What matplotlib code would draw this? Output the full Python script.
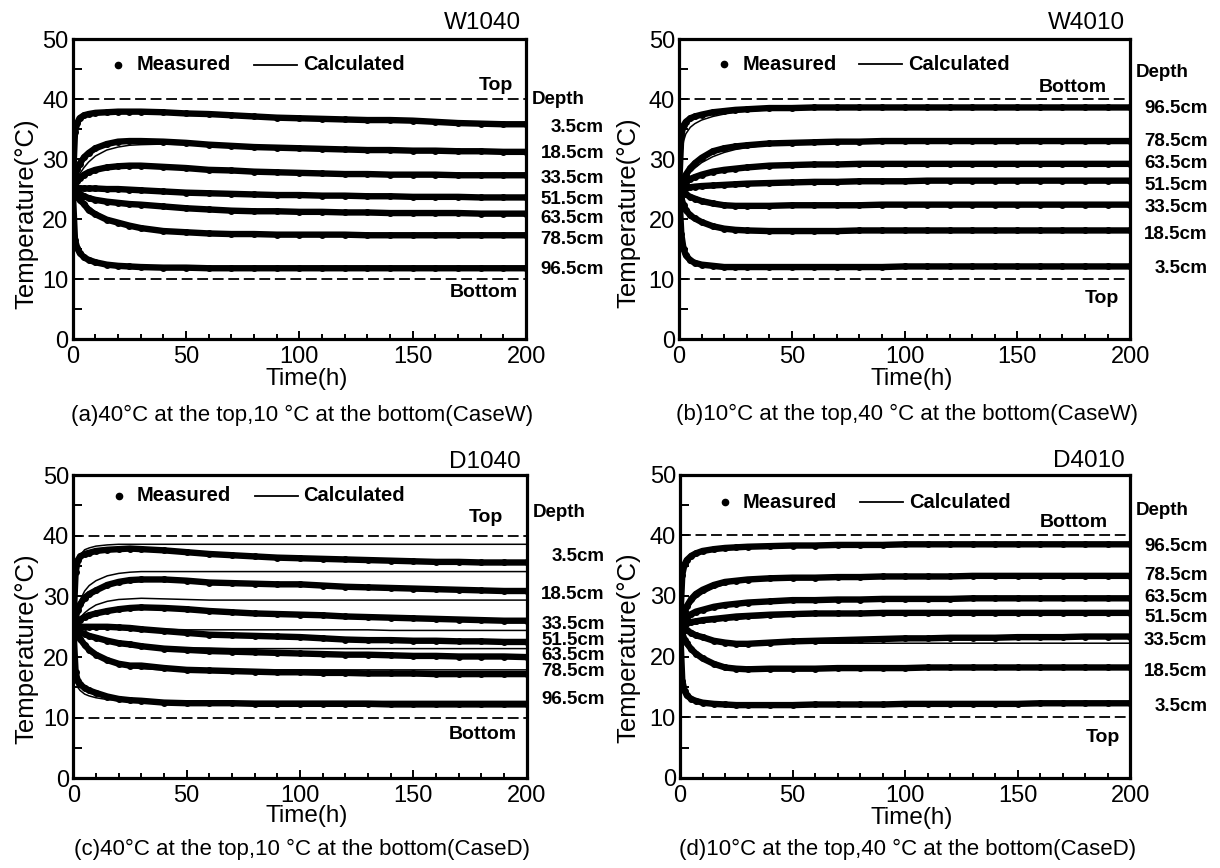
import matplotlib
matplotlib.use("Agg")
import matplotlib.pyplot as plt
from matplotlib.ticker import MultipleLocator
from matplotlib.transforms import blended_transform_factory

plt.rcParams['font.family'] = ['Liberation Sans', 'DejaVu Sans']

# elapsed time of each reading (h)
hours = [0, 1, 2, 3, 5, 7, 10, 15, 20, 25, 30, 40, 50, 60, 70, 80, 90,
         100, 110, 120, 130, 140, 150, 160, 170, 180, 190, 200]

# sensor depths, from the top of the column downwards
depths = ["3.5cm", "18.5cm", "33.5cm", "51.5cm", "63.5cm", "78.5cm", "96.5cm"]

# ---- W1040: 40 degC at the top, 10 degC at the bottom (case W) ----
w1040_measured = [
    [25, 34.5, 36.0, 36.8, 37.3, 37.5, 37.7, 37.8, 37.9, 37.9, 37.9, 37.8, 37.6, 37.5, 37.3, 37.1, 36.9, 36.8, 36.7, 36.6, 36.5, 36.5, 36.4, 36.2, 36.0, 35.9, 35.8, 35.8],
    [25, 27.0, 28.3, 29.2, 30.3, 31.0, 31.8, 32.5, 32.9, 33.0, 33.0, 32.9, 32.7, 32.4, 32.2, 32.0, 31.9, 31.8, 31.7, 31.6, 31.5, 31.5, 31.4, 31.4, 31.3, 31.3, 31.2, 31.2],
    [25, 25.8, 26.3, 26.8, 27.4, 27.8, 28.2, 28.6, 28.8, 28.9, 28.9, 28.7, 28.5, 28.2, 28.1, 27.9, 27.8, 27.7, 27.6, 27.5, 27.5, 27.4, 27.4, 27.4, 27.3, 27.3, 27.3, 27.3],
    [25, 25.1, 25.1, 25.1, 25.1, 25.1, 25.1, 25.0, 25.0, 24.9, 24.8, 24.6, 24.4, 24.3, 24.2, 24.1, 24.0, 24.0, 23.9, 23.9, 23.8, 23.8, 23.7, 23.7, 23.7, 23.6, 23.6, 23.6],
    [25, 24.7, 24.4, 24.2, 23.8, 23.5, 23.2, 22.9, 22.7, 22.5, 22.4, 22.1, 21.8, 21.6, 21.4, 21.3, 21.3, 21.2, 21.2, 21.1, 21.1, 21.0, 21.0, 21.0, 21.0, 20.9, 20.9, 20.9],
    [25, 24.3, 23.7, 23.2, 22.5, 21.5, 20.8, 19.9, 19.4, 18.9, 18.5, 18.0, 17.8, 17.6, 17.5, 17.5, 17.4, 17.4, 17.4, 17.4, 17.3, 17.3, 17.3, 17.3, 17.3, 17.3, 17.3, 17.3],
    [25, 16.5, 15.2, 14.4, 13.6, 13.2, 12.8, 12.4, 12.2, 12.1, 12.0, 11.9, 11.9, 11.8, 11.8, 11.8, 11.8, 11.8, 11.8, 11.8, 11.8, 11.8, 11.8, 11.8, 11.8, 11.8, 11.8, 11.8],
]
w1040_calculated = [
    [25, 33.0, 35.3, 36.3, 37.0, 37.3, 37.6, 37.8, 37.9, 37.9, 37.9, 37.8, 37.6, 37.5, 37.3, 37.1, 36.9, 36.8, 36.7, 36.6, 36.5, 36.5, 36.4, 36.2, 36.0, 35.9, 35.8, 35.8],
    [25, 26.0, 26.8, 27.5, 28.6, 29.5, 30.5, 31.5, 32.0, 32.3, 32.4, 32.5, 32.4, 32.3, 32.1, 32.0, 31.9, 31.8, 31.7, 31.6, 31.5, 31.5, 31.4, 31.4, 31.3, 31.3, 31.2, 31.2],
    [25, 25.4, 25.8, 26.2, 26.9, 27.4, 27.9, 28.4, 28.7, 28.8, 28.8, 28.7, 28.5, 28.2, 28.1, 27.9, 27.8, 27.7, 27.6, 27.5, 27.5, 27.4, 27.4, 27.4, 27.3, 27.3, 27.3, 27.3],
    [25, 25.0, 25.0, 25.0, 25.0, 25.0, 25.0, 25.0, 24.9, 24.9, 24.8, 24.6, 24.4, 24.3, 24.2, 24.1, 24.0, 24.0, 23.9, 23.9, 23.8, 23.8, 23.7, 23.7, 23.7, 23.6, 23.6, 23.6],
    [25, 24.8, 24.6, 24.4, 24.0, 23.7, 23.4, 23.0, 22.7, 22.5, 22.4, 22.1, 21.8, 21.6, 21.4, 21.3, 21.3, 21.2, 21.2, 21.1, 21.1, 21.0, 21.0, 21.0, 21.0, 20.9, 20.9, 20.9],
    [25, 24.6, 24.1, 23.6, 22.8, 22.1, 21.2, 20.1, 19.3, 18.8, 18.5, 18.0, 17.8, 17.6, 17.5, 17.5, 17.4, 17.4, 17.4, 17.4, 17.3, 17.3, 17.3, 17.3, 17.3, 17.3, 17.3, 17.3],
    [25, 15.5, 14.5, 14.0, 13.3, 13.0, 12.7, 12.4, 12.2, 12.1, 12.0, 11.9, 11.9, 11.8, 11.8, 11.8, 11.8, 11.8, 11.8, 11.8, 11.8, 11.8, 11.8, 11.8, 11.8, 11.8, 11.8, 11.8],
]

# ---- W4010: 10 degC at the top, 40 degC at the bottom (case W) ----
w4010_measured = [
    [25, 17.5, 15.0, 14.0, 13.1, 12.7, 12.4, 12.2, 12.0, 12.0, 12.0, 12.0, 12.0, 12.0, 12.0, 12.0, 12.0, 12.1, 12.1, 12.1, 12.1, 12.1, 12.1, 12.1, 12.1, 12.1, 12.1, 12.1],
    [25, 23.5, 22.3, 21.5, 20.6, 20.1, 19.5, 18.8, 18.4, 18.2, 18.1, 18.0, 18.0, 18.0, 18.0, 18.1, 18.1, 18.1, 18.1, 18.1, 18.1, 18.1, 18.1, 18.1, 18.1, 18.1, 18.1, 18.1],
    [25, 24.7, 24.4, 24.1, 23.7, 23.4, 23.0, 22.6, 22.3, 22.2, 22.2, 22.2, 22.3, 22.3, 22.3, 22.3, 22.4, 22.4, 22.4, 22.4, 22.4, 22.4, 22.4, 22.4, 22.4, 22.4, 22.4, 22.4],
    [25, 25.1, 25.2, 25.2, 25.3, 25.4, 25.5, 25.6, 25.7, 25.8, 25.9, 26.0, 26.1, 26.2, 26.2, 26.3, 26.3, 26.3, 26.4, 26.4, 26.4, 26.4, 26.4, 26.4, 26.4, 26.4, 26.4, 26.4],
    [25, 25.5, 25.9, 26.2, 26.7, 27.0, 27.4, 27.9, 28.2, 28.4, 28.6, 28.9, 29.0, 29.1, 29.1, 29.2, 29.2, 29.2, 29.2, 29.2, 29.2, 29.2, 29.2, 29.2, 29.2, 29.2, 29.2, 29.2],
    [25, 26.0, 26.8, 27.4, 28.5, 29.3, 30.2, 31.3, 31.8, 32.1, 32.3, 32.6, 32.7, 32.8, 32.9, 32.9, 33.0, 33.0, 33.0, 33.0, 33.0, 33.0, 33.0, 33.0, 33.0, 33.0, 33.0, 33.0],
    [25, 34.0, 35.6, 36.2, 36.8, 37.1, 37.4, 37.8, 38.0, 38.2, 38.3, 38.5, 38.5, 38.6, 38.6, 38.6, 38.6, 38.6, 38.6, 38.6, 38.6, 38.6, 38.6, 38.6, 38.6, 38.6, 38.6, 38.6],
]
w4010_calculated = [
    [25, 15.5, 14.0, 13.4, 12.8, 12.5, 12.3, 12.1, 12.0, 12.0, 12.0, 12.0, 12.0, 12.0, 12.0, 12.0, 12.0, 12.1, 12.1, 12.1, 12.1, 12.1, 12.1, 12.1, 12.1, 12.1, 12.1, 12.1],
    [25, 23.0, 22.0, 21.3, 20.5, 20.0, 19.4, 18.8, 18.4, 18.2, 18.1, 18.0, 18.0, 18.0, 18.0, 18.1, 18.1, 18.1, 18.1, 18.1, 18.1, 18.1, 18.1, 18.1, 18.1, 18.1, 18.1, 18.1],
    [25, 24.8, 24.5, 24.3, 23.9, 23.5, 23.1, 22.7, 22.4, 22.3, 22.2, 22.2, 22.3, 22.3, 22.3, 22.3, 22.4, 22.4, 22.4, 22.4, 22.4, 22.4, 22.4, 22.4, 22.4, 22.4, 22.4, 22.4],
    [25, 25.0, 25.1, 25.1, 25.2, 25.3, 25.4, 25.5, 25.6, 25.7, 25.8, 26.0, 26.1, 26.2, 26.2, 26.3, 26.3, 26.3, 26.4, 26.4, 26.4, 26.4, 26.4, 26.4, 26.4, 26.4, 26.4, 26.4],
    [25, 25.2, 25.5, 25.8, 26.3, 26.7, 27.1, 27.7, 28.0, 28.3, 28.5, 28.8, 29.0, 29.1, 29.1, 29.2, 29.2, 29.2, 29.2, 29.2, 29.2, 29.2, 29.2, 29.2, 29.2, 29.2, 29.2, 29.2],
    [25, 25.5, 26.2, 26.8, 27.8, 28.5, 29.4, 30.4, 31.1, 31.6, 31.9, 32.4, 32.6, 32.8, 32.9, 32.9, 33.0, 33.0, 33.0, 33.0, 33.0, 33.0, 33.0, 33.0, 33.0, 33.0, 33.0, 33.0],
    [25, 30.5, 33.0, 34.2, 35.3, 35.9, 36.5, 37.1, 37.5, 37.8, 38.0, 38.2, 38.4, 38.5, 38.6, 38.6, 38.6, 38.6, 38.6, 38.6, 38.6, 38.6, 38.6, 38.6, 38.6, 38.6, 38.6, 38.6],
]

# ---- D1040: 40 degC at the top, 10 degC at the bottom (case D) ----
d1040_measured = [
    [25, 34.0, 36.0, 36.6, 37.0, 37.2, 37.5, 37.7, 37.8, 37.9, 37.8, 37.6, 37.3, 37.0, 36.8, 36.6, 36.4, 36.3, 36.2, 36.1, 36.0, 35.9, 35.8, 35.7, 35.7, 35.6, 35.6, 35.6],
    [25, 26.5, 27.8, 28.7, 29.8, 30.4, 31.0, 31.9, 32.4, 32.7, 32.8, 32.8, 32.6, 32.3, 32.2, 32.1, 32.0, 32.0, 31.8, 31.6, 31.5, 31.4, 31.3, 31.2, 31.1, 31.0, 30.9, 30.9],
    [25, 25.5, 25.9, 26.2, 26.6, 26.9, 27.2, 27.6, 27.9, 28.1, 28.2, 28.1, 27.9, 27.6, 27.4, 27.2, 27.1, 27.0, 26.9, 26.7, 26.6, 26.5, 26.4, 26.3, 26.2, 26.1, 26.0, 26.0],
    [25, 25.0, 25.0, 25.0, 25.0, 25.0, 25.0, 25.0, 24.9, 24.8, 24.6, 24.3, 24.0, 23.7, 23.6, 23.5, 23.4, 23.3, 23.1, 22.9, 22.8, 22.8, 22.7, 22.7, 22.6, 22.6, 22.5, 22.5],
    [25, 24.7, 24.4, 24.1, 23.8, 23.5, 23.2, 22.7, 22.3, 22.1, 21.8, 21.4, 21.2, 21.0, 20.9, 20.8, 20.7, 20.6, 20.5, 20.4, 20.4, 20.3, 20.2, 20.2, 20.1, 20.1, 20.1, 20.0],
    [25, 24.3, 23.6, 23.0, 22.0, 21.2, 20.4, 19.5, 18.9, 18.6, 18.6, 18.2, 17.9, 17.8, 17.7, 17.6, 17.5, 17.5, 17.4, 17.4, 17.3, 17.3, 17.3, 17.2, 17.2, 17.2, 17.2, 17.2],
    [25, 17.5, 16.0, 15.5, 14.9, 14.5, 14.1, 13.5, 13.1, 12.9, 12.8, 12.5, 12.4, 12.4, 12.4, 12.3, 12.3, 12.3, 12.3, 12.3, 12.3, 12.2, 12.2, 12.2, 12.2, 12.2, 12.2, 12.2],
]
d1040_calculated = [
    [25, 33.5, 35.8, 36.8, 37.7, 38.0, 38.3, 38.5, 38.6, 38.6, 38.6, 38.6, 38.6, 38.6, 38.6, 38.6, 38.6, 38.6, 38.6, 38.6, 38.6, 38.6, 38.6, 38.6, 38.6, 38.6, 38.6, 38.6],
    [25, 26.8, 28.3, 29.4, 30.9, 31.8, 32.6, 33.4, 33.8, 34.0, 34.1, 34.1, 34.1, 34.1, 34.1, 34.1, 34.1, 34.1, 34.1, 34.1, 34.1, 34.1, 34.1, 34.1, 34.1, 34.1, 34.1, 34.1],
    [25, 25.5, 26.0, 26.5, 27.3, 27.9, 28.6, 29.2, 29.5, 29.6, 29.7, 29.6, 29.5, 29.4, 29.4, 29.4, 29.4, 29.4, 29.4, 29.4, 29.4, 29.4, 29.4, 29.4, 29.4, 29.4, 29.4, 29.4],
    [25, 25.0, 25.0, 25.0, 25.0, 24.9, 24.9, 24.8, 24.8, 24.7, 24.7, 24.6, 24.5, 24.5, 24.5, 24.5, 24.5, 24.5, 24.5, 24.5, 24.5, 24.4, 24.4, 24.4, 24.4, 24.4, 24.4, 24.4],
    [25, 24.8, 24.5, 24.2, 23.7, 23.3, 22.9, 22.4, 22.1, 21.9, 21.8, 21.6, 21.5, 21.5, 21.4, 21.4, 21.4, 21.4, 21.4, 21.4, 21.4, 21.4, 21.4, 21.4, 21.4, 21.4, 21.4, 21.4],
    [25, 24.4, 23.7, 23.1, 22.1, 21.2, 20.3, 19.3, 18.7, 18.3, 18.1, 17.9, 17.9, 17.9, 17.9, 17.9, 17.9, 17.9, 17.9, 17.9, 17.9, 17.9, 17.9, 17.9, 17.9, 17.9, 17.9, 17.9],
    [25, 16.0, 15.0, 14.5, 13.9, 13.6, 13.3, 13.0, 12.9, 12.8, 12.8, 12.8, 12.7, 12.7, 12.7, 12.7, 12.7, 12.7, 12.7, 12.7, 12.7, 12.7, 12.7, 12.7, 12.7, 12.7, 12.7, 12.7],
]

# ---- D4010: 10 degC at the top, 40 degC at the bottom (case D) ----
d4010_measured = [
    [25, 16.0, 14.4, 13.6, 13.0, 12.7, 12.4, 12.2, 12.1, 12.0, 12.0, 12.0, 12.0, 12.1, 12.1, 12.1, 12.1, 12.2, 12.2, 12.2, 12.2, 12.2, 12.2, 12.3, 12.3, 12.3, 12.3, 12.3],
    [25, 23.8, 22.8, 22.2, 21.2, 20.5, 19.7, 18.8, 18.2, 18.0, 17.9, 18.0, 18.0, 18.0, 18.1, 18.1, 18.1, 18.1, 18.2, 18.2, 18.2, 18.2, 18.2, 18.2, 18.2, 18.2, 18.2, 18.2],
    [25, 24.8, 24.5, 24.3, 23.9, 23.5, 23.2, 22.6, 22.3, 22.1, 22.1, 22.3, 22.5, 22.6, 22.7, 22.8, 22.9, 23.0, 23.0, 23.1, 23.1, 23.1, 23.2, 23.2, 23.2, 23.3, 23.3, 23.3],
    [25, 25.2, 25.4, 25.5, 25.7, 25.8, 26.0, 26.2, 26.4, 26.6, 26.7, 26.9, 27.0, 27.1, 27.1, 27.1, 27.2, 27.2, 27.2, 27.2, 27.2, 27.2, 27.2, 27.2, 27.2, 27.2, 27.2, 27.2],
    [25, 25.6, 26.1, 26.5, 27.0, 27.4, 27.7, 28.2, 28.5, 28.7, 28.9, 29.1, 29.3, 29.3, 29.4, 29.4, 29.5, 29.5, 29.5, 29.5, 29.6, 29.6, 29.6, 29.6, 29.6, 29.6, 29.6, 29.6],
    [25, 26.5, 27.5, 28.3, 29.5, 30.3, 31.0, 31.8, 32.3, 32.5, 32.7, 32.9, 33.0, 33.0, 33.1, 33.1, 33.2, 33.2, 33.2, 33.2, 33.3, 33.3, 33.3, 33.3, 33.3, 33.3, 33.3, 33.3],
    [25, 33.5, 35.2, 35.9, 36.6, 37.0, 37.4, 37.7, 37.9, 38.0, 38.1, 38.2, 38.3, 38.3, 38.4, 38.4, 38.4, 38.5, 38.5, 38.5, 38.5, 38.5, 38.5, 38.5, 38.5, 38.5, 38.5, 38.5],
]
d4010_calculated = [
    [25, 15.0, 13.8, 13.2, 12.7, 12.5, 12.3, 12.1, 12.1, 12.0, 12.0, 12.0, 12.0, 12.1, 12.1, 12.1, 12.1, 12.2, 12.2, 12.2, 12.2, 12.2, 12.2, 12.3, 12.3, 12.3, 12.3, 12.3],
    [25, 23.5, 22.5, 21.8, 20.9, 20.2, 19.5, 18.7, 18.2, 18.0, 17.9, 18.0, 18.0, 18.0, 18.1, 18.1, 18.1, 18.1, 18.2, 18.2, 18.2, 18.2, 18.2, 18.2, 18.2, 18.2, 18.2, 18.2],
    [25, 24.9, 24.7, 24.5, 24.1, 23.7, 23.3, 22.7, 22.4, 22.2, 22.2, 22.2, 22.2, 22.2, 22.2, 22.2, 22.2, 22.2, 22.2, 22.2, 22.2, 22.2, 22.2, 22.2, 22.2, 22.2, 22.2, 22.2],
    [25, 25.0, 25.1, 25.2, 25.3, 25.4, 25.6, 25.8, 26.0, 26.1, 26.3, 26.5, 26.7, 26.8, 26.9, 27.0, 27.1, 27.1, 27.2, 27.2, 27.2, 27.2, 27.2, 27.2, 27.2, 27.2, 27.2, 27.2],
    [25, 25.3, 25.7, 26.0, 26.6, 27.0, 27.4, 27.9, 28.3, 28.5, 28.7, 29.0, 29.2, 29.3, 29.4, 29.4, 29.5, 29.5, 29.5, 29.5, 29.6, 29.6, 29.6, 29.6, 29.6, 29.6, 29.6, 29.6],
    [25, 25.8, 26.7, 27.5, 28.7, 29.6, 30.4, 31.3, 31.9, 32.3, 32.5, 32.8, 33.0, 33.0, 33.1, 33.1, 33.2, 33.2, 33.2, 33.2, 33.3, 33.3, 33.3, 33.3, 33.3, 33.3, 33.3, 33.3],
    [25, 32.0, 34.3, 35.3, 36.3, 36.8, 37.2, 37.6, 37.8, 38.0, 38.1, 38.2, 38.3, 38.3, 38.4, 38.4, 38.4, 38.5, 38.5, 38.5, 38.5, 38.5, 38.5, 38.5, 38.5, 38.5, 38.5, 38.5],
]

# boundary temperatures (degC): upper and lower dashed lines
boundary_temps = [40, 10]

panels = [
    dict(rect=[0.0596, 0.6094, 0.3716, 0.3456], name="W1040",
         measured=w1040_measured, calculated=w1040_calculated,
         caption="(a)40\u00b0C at the top,10 \u00b0C at the bottom(CaseW)",
         upper_tag=("Top", 0.972, 42.3), lower_tag=("Bottom", 0.981, 7.8),
         depth_head=40.0, depth_pos=[35.2, 30.9, 26.8, 23.2, 20.1, 16.6, 11.6],
         legend_y=0.914, ylab=(-0.103, 0.417), xlab_y=-0.133, cap_y=-0.256, title_y=1.052),
    dict(rect=[0.5566, 0.6094, 0.3697, 0.3456], name="W4010",
         measured=w4010_measured, calculated=w4010_calculated,
         caption="(b)10\u00b0C at the top,40 \u00b0C at the bottom(CaseW)",
         upper_tag=("Bottom", 0.949, 42.0), lower_tag=("Top", 0.976, 6.7),
         depth_head=44.4, depth_pos=[11.7, 17.5, 21.9, 25.6, 29.2, 33.0, 38.5],
         legend_y=0.916, ylab=(-0.112, 0.42), xlab_y=-0.133, cap_y=-0.25, title_y=1.052),
    dict(rect=[0.0601, 0.1032, 0.3716, 0.3494], name="D1040",
         measured=d1040_measured, calculated=d1040_calculated,
         caption="(c)40\u00b0C at the top,10 \u00b0C at the bottom(CaseD)",
         upper_tag=("Top", 0.948, 43.0), lower_tag=("Bottom", 0.978, 7.2),
         depth_head=43.8, depth_pos=[36.6, 30.4, 25.4, 22.7, 20.2, 17.6, 13.0],
         legend_y=0.932, ylab=(-0.104, 0.428), xlab_y=-0.125, cap_y=-0.235, title_y=1.042),
    dict(rect=[0.5574, 0.1038, 0.3689, 0.3495], name="D4010",
         measured=d4010_measured, calculated=d4010_calculated,
         caption="(d)10\u00b0C at the top,40 \u00b0C at the bottom(CaseD)",
         upper_tag=("Bottom", 0.951, 42.1), lower_tag=("Top", 0.978, 6.6),
         depth_head=44.0, depth_pos=[11.8, 17.6, 22.6, 26.4, 29.7, 33.3, 38.2],
         legend_y=0.908, ylab=(-0.114, 0.428), xlab_y=-0.132, cap_y=-0.237, title_y=1.046),
]

fig = plt.figure(figsize=(12.2, 8.68), dpi=100)

for p in panels:
    ax = fig.add_axes(p["rect"])

    # measured readings: dense dots forming a thick band
    for series in p["measured"]:
        ax.plot(hours, series, color="black", lw=4.6, marker="o", ms=4.0,
                solid_capstyle="butt", solid_joinstyle="round", zorder=3)
    # model results: thin solid line
    for series in p["calculated"]:
        ax.plot(hours, series, color="black", lw=1.1, zorder=4)

    # boundary temperatures
    for temp in boundary_temps:
        ax.axhline(temp, color="black", lw=1.3, ls=(0, (6, 2.6)), zorder=2)

    ax.set_xlim(0, 200)
    ax.set_ylim(0, 50)
    ax.xaxis.set_major_locator(MultipleLocator(50))
    ax.xaxis.set_minor_locator(MultipleLocator(10))
    ax.yaxis.set_major_locator(MultipleLocator(10))
    ax.yaxis.set_minor_locator(MultipleLocator(5))
    ax.tick_params(which="both", direction="in", top=False, right=False,
                   width=1.4, labelsize=17)
    ax.tick_params(axis="y", which="both", length=6.5, pad=3)
    ax.tick_params(axis="x", which="major", length=6, pad=5)
    ax.tick_params(axis="x", which="minor", length=3.5, pad=5)
    for sp in ax.spines.values():
        sp.set_linewidth(2.3)

    ax.set_ylabel("Temperature(\u00b0C)", fontsize=18.5)
    ax.yaxis.label.set_verticalalignment("center")
    ax.yaxis.label.set_horizontalalignment("center")
    ax.yaxis.set_label_coords(*p["ylab"])
    ax.set_xlabel("Time(h)", fontsize=17.5)
    ax.xaxis.label.set_verticalalignment("center")
    ax.xaxis.set_label_coords(0.515, p["xlab_y"])
    ax.text(0.505, p["cap_y"], p["caption"], transform=ax.transAxes,
            ha="center", va="center", fontsize=16)
    ax.text(0.988, p["title_y"], p["name"], transform=ax.transAxes,
            ha="right", va="center", fontsize=17.5)

    # legend drawn inside the frame
    ly = p["legend_y"]
    ax.plot([0.10], [ly], transform=ax.transAxes, marker="o", ms=4.5,
            color="black", ls="none")
    ax.text(0.14, ly, "Measured", transform=ax.transAxes, ha="left",
            va="center", fontsize=14.5, fontweight="bold")
    ax.plot([0.40, 0.495], [ly, ly], transform=ax.transAxes, color="black", lw=1.3)
    ax.text(0.508, ly, "Calculated", transform=ax.transAxes, ha="left",
            va="center", fontsize=14.5, fontweight="bold")

    side = blended_transform_factory(ax.transAxes, ax.transData)

    # boundary tags
    for tag, xa, ya in (p["upper_tag"], p["lower_tag"]):
        ax.text(xa, ya, tag, transform=side, ha="right", va="center",
                fontsize=14, fontweight="bold")

    # depth labels beside the frame
    ax.text(1.013, p["depth_head"], "Depth", transform=side, ha="left",
            va="center", fontsize=13.5, fontweight="bold", clip_on=False)
    for name, ypos in zip(depths, p["depth_pos"]):
        ax.text(1.172, ypos, name, transform=side, ha="right", va="center",
                fontsize=13.5, fontweight="bold", clip_on=False)

fig.savefig("out.png", dpi=100)
